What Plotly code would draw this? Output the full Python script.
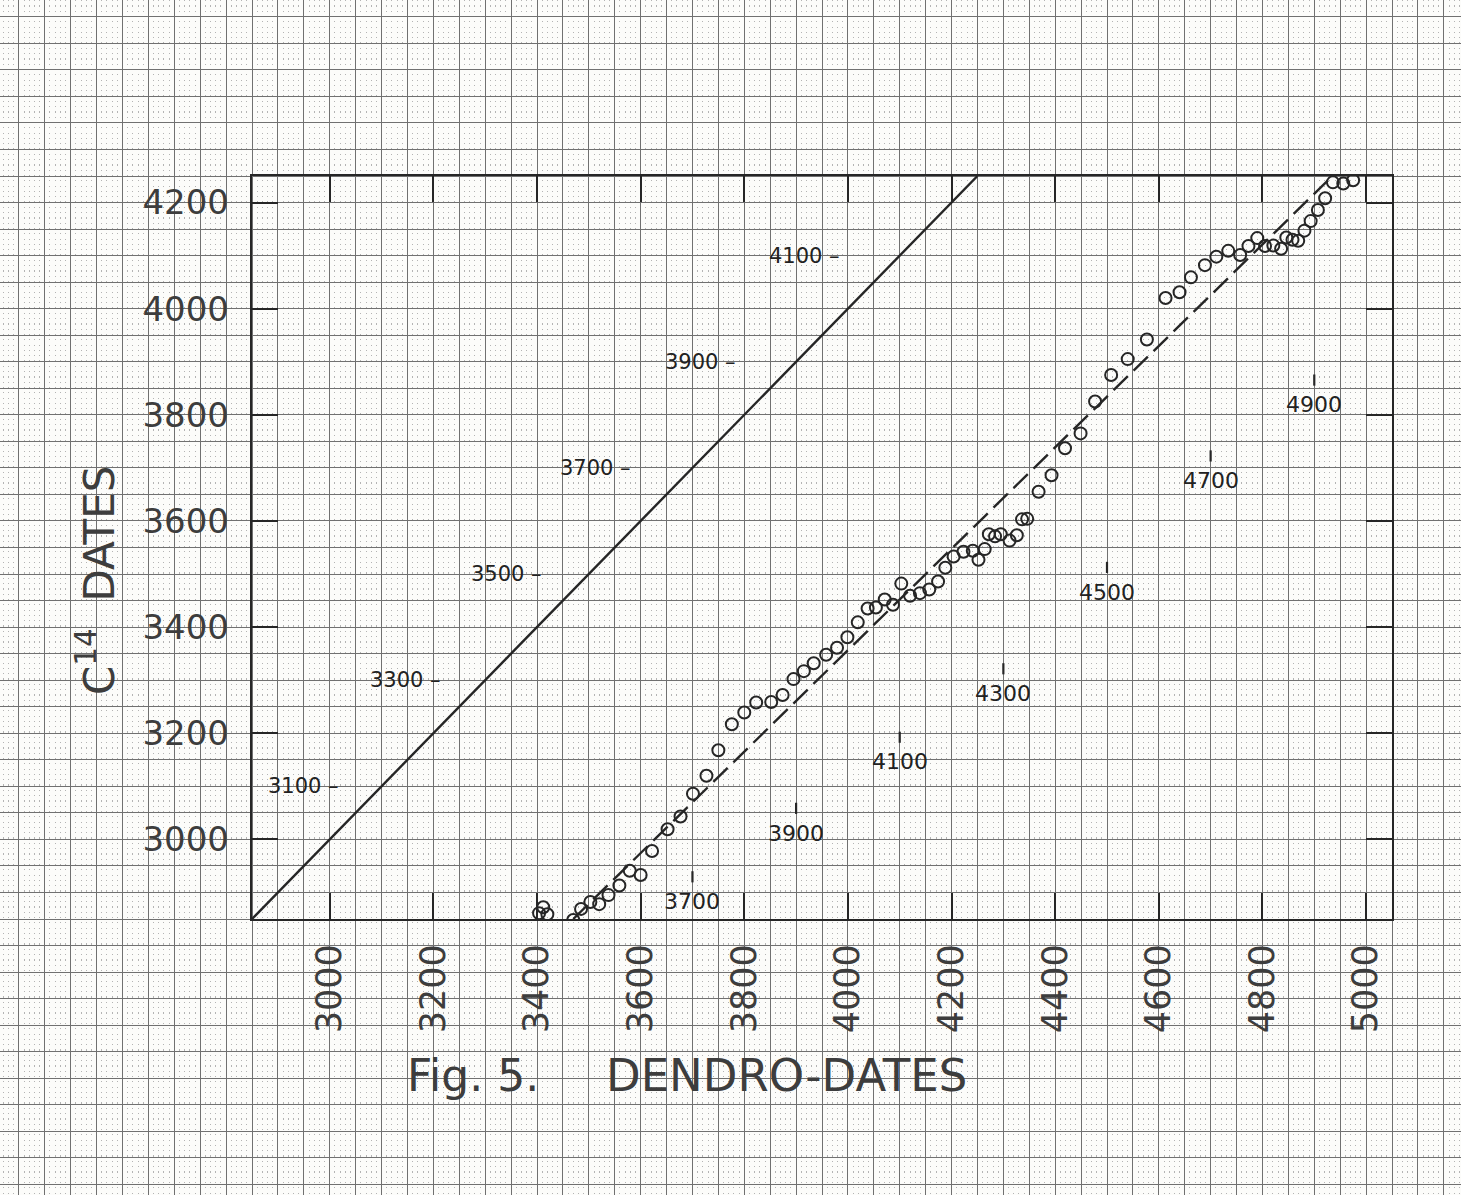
import plotly.graph_objects as go

# ---------------- data ----------------
dendro_dates = [3412, 3404, 3420, 3470, 3485, 3503, 3520, 3538, 3559, 3579,
                3600, 3622, 3652, 3677, 3701, 3727, 3750, 3776, 3800, 3823,
                3852, 3874, 3895, 3915, 3934, 3958, 3979, 3999, 4019, 4038,
                4054, 4071, 4087, 4103, 4120, 4139, 4157, 4174, 4188, 4204,
                4223, 4241, 4252, 4264, 4272, 4284, 4295, 4312, 4326, 4336,
                4346, 4368, 4393, 4419, 4449, 4477, 4508, 4540, 4577, 4613,
                4640, 4662, 4689, 4711, 4734, 4757, 4773, 4790, 4805, 4821,
                4836, 4846, 4858, 4869, 4881, 4893, 4907, 4921, 4936, 4956,
                4975]
c14_dates = [2872, 2861, 2859, 2848, 2869, 2882, 2878, 2895, 2913, 2941,
             2933, 2978, 3019, 3043, 3086, 3120, 3168, 3217, 3239, 3258,
             3259, 3272, 3302, 3317, 3332, 3348, 3361, 3381, 3409, 3435,
             3437, 3452, 3442, 3482, 3459, 3464, 3471, 3486, 3512, 3533,
             3542, 3544, 3527, 3547, 3575, 3571, 3575, 3563, 3573, 3603,
             3604, 3655, 3686, 3737, 3765, 3825, 3875, 3905, 3942, 4020,
             4031, 4059, 4082, 4098, 4109, 4101, 4118, 4133, 4118, 4119,
             4113, 4134, 4130, 4128, 4147, 4165, 4186, 4208, 4238, 4236,
             4242]

identity_x = [2850, 4250]
identity_y = [2850, 4250]
dashed_x = [3470, 4935]
dashed_y = [2850, 4250]

x_ticks = [3000, 3200, 3400, 3600, 3800, 4000, 4200, 4400, 4600, 4800, 5000]
y_ticks = [3000, 3200, 3400, 3600, 3800, 4000, 4200]

solid_scale_labels = [3100, 3300, 3500, 3700, 3900, 4100]
dashed_scale_labels = [3700, 3900, 4100, 4300, 4500, 4700, 4900]

# ---------------- layout / style ----------------
W, H = 1461, 1195
BOX_L, BOX_R, BOX_T, BOX_B = 252, 1392, 176, 919
X0, X1, Y0, Y1 = 2850, 5050, 2850, 4250
sx = (BOX_R - BOX_L) / (X1 - X0)
sy = (BOX_B - BOX_T) / (Y1 - Y0)
page_x = [X0 - BOX_L / sx, X1 + (W - BOX_R) / sx]
page_y = [Y0 - (H - BOX_B) / sy, Y1 + BOX_T / sy]

INK = "#262626"
TXT = "#3d3d3d"
PAPER = "#fcfcfa"
FONT = "DejaVu Sans"

fig = go.Figure()

# graph-paper subplot (full page)
fig.add_trace(go.Scatter(x=[], y=[], xaxis="x", yaxis="y", showlegend=False,
                         hoverinfo="skip"))

fig.add_trace(go.Scatter(x=identity_x, y=identity_y, mode="lines",
                         line=dict(color=INK, width=2.4),
                         xaxis="x2", yaxis="y2", showlegend=False))
fig.add_trace(go.Scatter(x=dashed_x, y=dashed_y, mode="lines",
                         line=dict(color=INK, width=2.4, dash="20px,8px"),
                         xaxis="x2", yaxis="y2", showlegend=False))
fig.add_trace(go.Scatter(x=dendro_dates, y=c14_dates, mode="markers",
                         marker=dict(symbol="circle-open", size=12, color=INK,
                                     line=dict(width=2, color=INK)),
                         xaxis="x2", yaxis="y2", showlegend=False))

annotations = []
# labels beside the solid line
solid_label_x = [3022, 3218, 3414, 3585, 3787, 3989]
for v, xp in zip(solid_scale_labels, solid_label_x):
    annotations.append(dict(x=xp, y=v, xref="x2", yref="y2", text=f"{v} \u2013",
                            showarrow=False, xanchor="right", yanchor="middle",
                            font=dict(family=FONT, size=21, color="#222222")))
# labels beneath the dashed line
dashed_label_y = [2883, 3012, 3146, 3275, 3466, 3676, 3819]
shapes = []
for v, yp in zip(dashed_scale_labels, dashed_label_y):
    annotations.append(dict(x=v, y=yp, xref="x2", yref="y2", text=str(v),
                            showarrow=False, xanchor="center", yanchor="middle",
                            font=dict(family=FONT, size=22, color="#222222")))
    shapes.append(dict(type="line", xref="x2", yref="y2", x0=v, x1=v,
                       y0=yp + 36, y1=yp + 57, line=dict(color=INK, width=2.2)))

annotations.append(dict(x=97 / W, y=1 - 580 / H, xref="paper", yref="paper",
                        text="C<sup>14</sup>\u00a0\u00a0DATES", textangle=-90,
                        showarrow=False, xanchor="center", yanchor="middle",
                        font=dict(family=FONT, size=42, color=TXT)))
annotations.append(dict(x=405 / W, y=1 - 1075 / H, xref="paper", yref="paper",
                        text="Fig. 5.", showarrow=False, xanchor="left",
                        yanchor="middle",
                        font=dict(family=FONT, size=44, color=TXT)))
annotations.append(dict(x=604 / W, y=1 - 1075 / H, xref="paper", yref="paper",
                        text="DENDRO-DATES", showarrow=False, xanchor="left",
                        yanchor="middle",
                        font=dict(family=FONT, size=45, color=TXT)))

fig.update_layout(
    width=W, height=H,
    margin=dict(l=0, r=0, t=0, b=0),
    paper_bgcolor=PAPER,
    plot_bgcolor="rgba(0,0,0,0)",
    showlegend=False,
    annotations=annotations,
    shapes=shapes,
    xaxis=dict(domain=[0, 1], range=page_x, anchor="y",
               tickmode="linear", tick0=0, dtick=50,
               showticklabels=False, ticks="", showline=False, zeroline=False,
               showgrid=True, gridcolor="#707070", gridwidth=1.2,
               minor=dict(tickmode="linear", tick0=0, dtick=10, showgrid=True,
                          gridcolor="#b4b4b4", gridwidth=1.2,
                          griddash="1.2px,4.1px"),
               fixedrange=True),
    yaxis=dict(domain=[0, 1], range=page_y, anchor="x",
               tickmode="linear", tick0=0, dtick=50,
               showticklabels=False, ticks="", showline=False, zeroline=False,
               showgrid=True, gridcolor="#707070", gridwidth=1.2,
               fixedrange=True),
    xaxis2=dict(domain=[BOX_L / W, BOX_R / W], range=[X0, X1], anchor="y2",
                tickmode="array", tickvals=x_ticks,
                ticktext=[str(t) for t in x_ticks],
                ticks="inside", ticklen=26, tickwidth=2.4, tickcolor=INK,
                showline=True, linewidth=2.4, linecolor=INK, mirror="ticks",
                showgrid=False, zeroline=False, tickangle=-90,
                ticklabelstandoff=9,
                tickfont=dict(family=FONT, size=35, color=TXT)),
    yaxis2=dict(domain=[1 - BOX_B / H, 1 - BOX_T / H], range=[Y0, Y1],
                anchor="x2",
                tickmode="array", tickvals=y_ticks,
                ticktext=[str(t) for t in y_ticks],
                ticks="inside", ticklen=26, tickwidth=2.4, tickcolor=INK,
                showline=True, linewidth=2.4, linecolor=INK, mirror="ticks",
                showgrid=False, zeroline=False,
                ticklabelstandoff=14,
                tickfont=dict(family=FONT, size=34, color=TXT)),
)

fig.write_html(
    "out.html",
    config={"displayModeBar": False},
    post_script=("document.body.style.margin='0px';"
                 "document.body.style.padding='0px';"
                 "document.body.style.background='" + PAPER + "';"),
)
